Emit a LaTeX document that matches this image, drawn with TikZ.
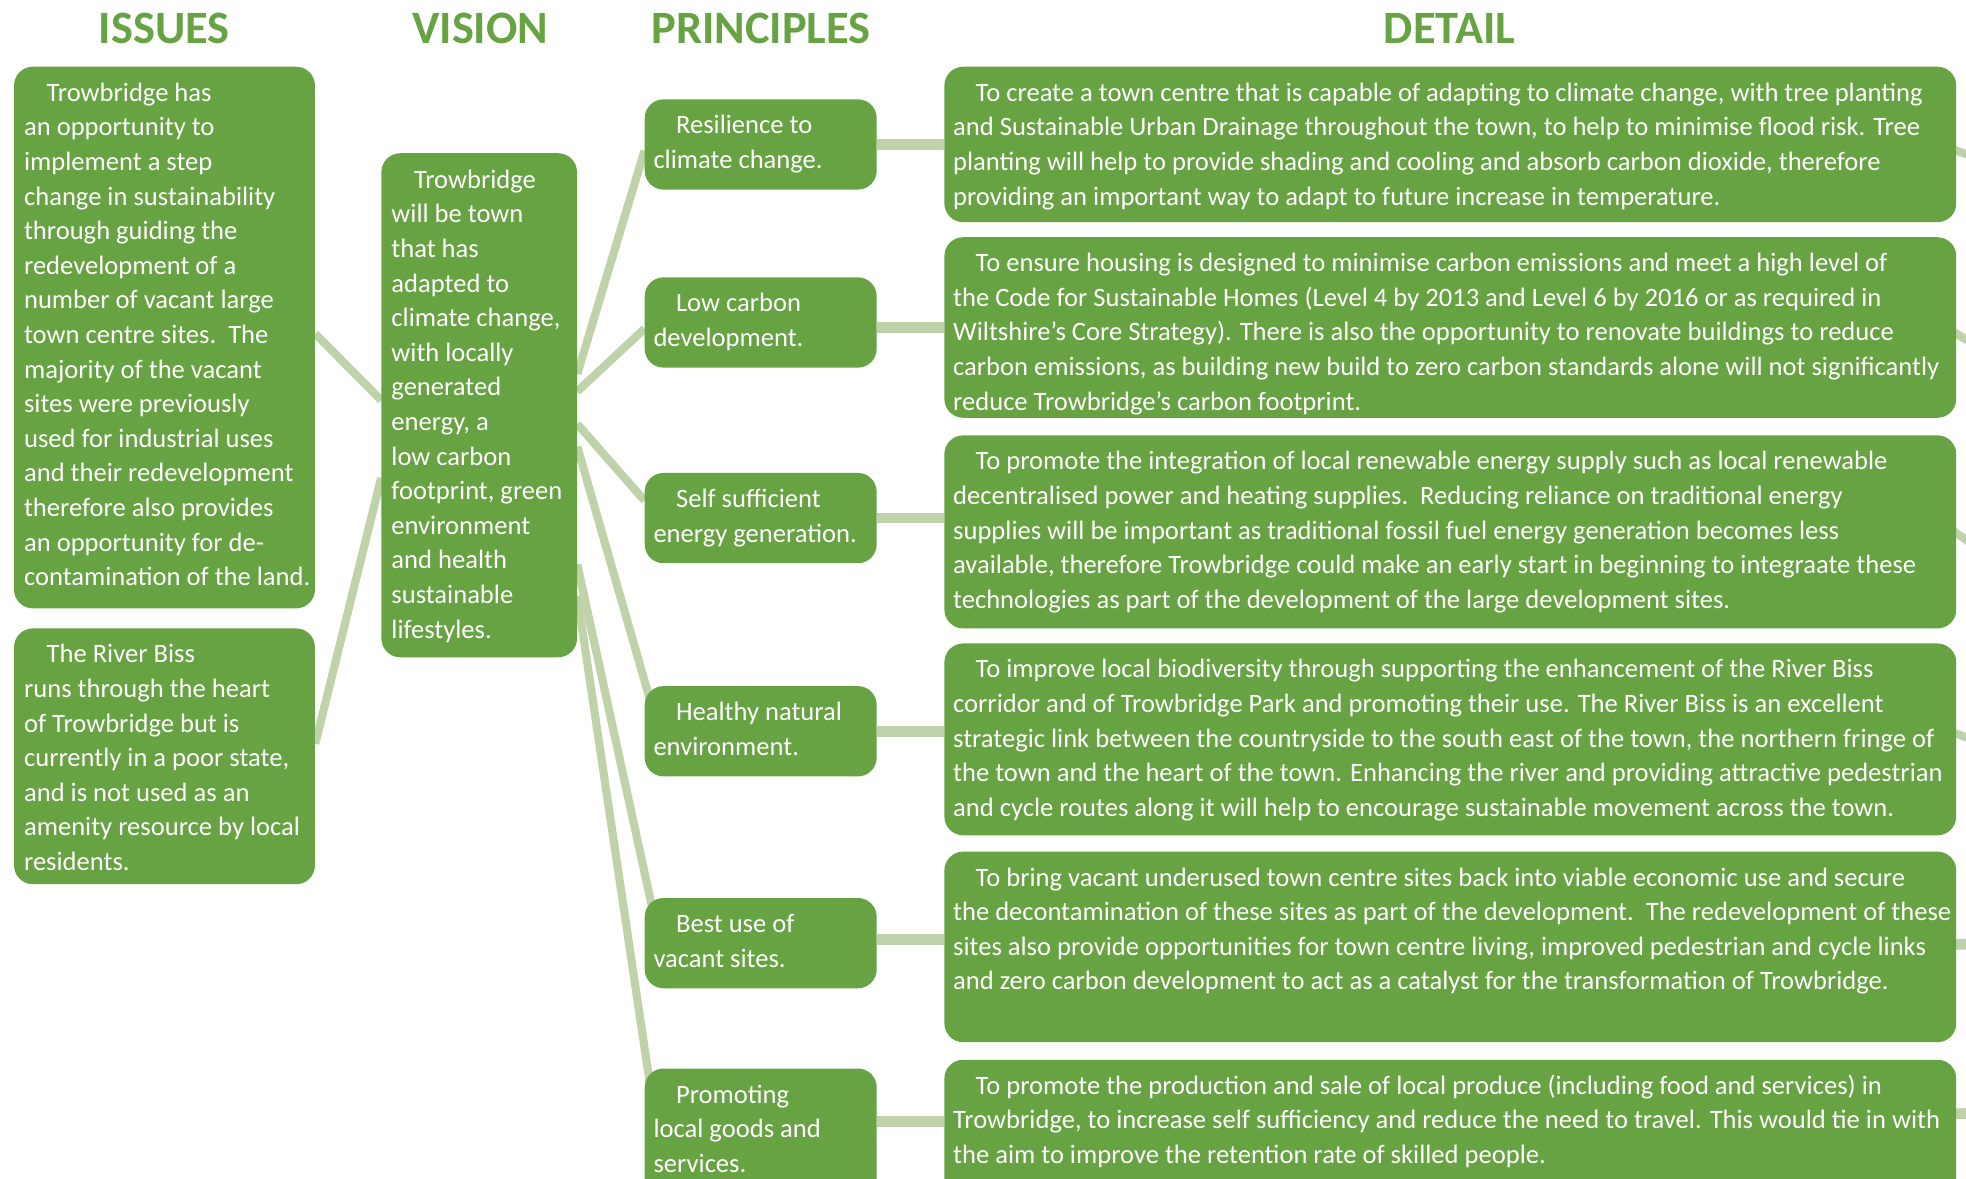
\documentclass[tikz,border=0pt]{standalone}
\usepackage{fontspec}
\setmainfont{Carlito}
\usetikzlibrary{backgrounds}
\definecolor{leaf}{HTML}{67A243}
\definecolor{sage}{HTML}{BFD2A9}
\newcommand\myindent{\hspace*{18pt}}
\newcommand\mystrut{\rule{0pt}{20pt}}

\begin{document}
\begin{tikzpicture}[x=1pt,y=-1pt,
  panel/.style={fill=leaf, draw=none, rounded corners=15pt, inner sep=0pt, anchor=north west},
  body/.style={text=white, font=\fontsize{21.2}{27.6}\selectfont, align=left, inner sep=0pt, anchor=north west},
  heading/.style={text=leaf, font=\bfseries\fontsize{37}{40}\selectfont, anchor=base, inner sep=0pt},
  link/.style={draw=sage, line width=6.5pt},
  tie/.style={draw=sage, line width=8.5pt},
]
\clip (0,0) rectangle (1568,940);

% column headings
\node[heading] (hissues) at (131,35) {ISSUES};
\node[heading] (hvision) at (383,35) {VISION};
\node[heading] (hprinc) at (607,35) {PRINCIPLES};
\node[heading] (hdetail) at (1156,35) {DETAIL};

% issues
\node[panel, minimum width=240pt, minimum height=432pt] (i1) at (11,53) {};
\node[body] (i1t) at ([xshift=8pt,yshift=-7.5pt]i1.north west) {\mystrut\myindent Trowbridge has\\
an opportunity to\\
implement a step\\
change in sustainability\\
through guiding the\\
redevelopment of a\\
number of vacant large\\
town centre sites.\ \ The\\
majority of the vacant\\
sites were previously\\
used for industrial uses\\
and their redevelopment\\
therefore also provides\\
an opportunity for de-\\
contamination of the land.};

\node[panel, minimum width=240pt, minimum height=204pt] (i2) at (11,501) {};
\node[body] (i2t) at ([xshift=8pt,yshift=-7.5pt]i2.north west) {\mystrut\myindent The River Biss\\
runs through the heart\\
of Trowbridge but is\\
currently in a poor state,\\
and is not used as an\\
amenity resource by local\\
residents.};

% vision
\node[panel, minimum width=156pt, minimum height=402pt] (vis) at (304,122) {};
\node[body] (vist) at ([xshift=8pt,yshift=-8pt]vis.north west) {\mystrut\myindent Trowbridge\\
will be town\\
that has\\
adapted to\\
climate change,\\
with locally\\
generated\\
energy, a\\
low carbon\\
footprint, green\\
environment\\
and health\\
sustainable\\
lifestyles.};

% principles
\node[panel, minimum width=185pt, minimum height=72pt] (p1) at (514,79) {};
\node[body] (p1t) at ([xshift=7pt,yshift=-7.5pt]p1.north west) {\mystrut\myindent Resilience to\\ climate change.};
\node[panel, minimum width=185pt, minimum height=72pt] (p2) at (514,221) {};
\node[body] (p2t) at ([xshift=7pt,yshift=-7.5pt]p2.north west) {\mystrut\myindent Low carbon\\ development.};
\node[panel, minimum width=185pt, minimum height=72pt] (p3) at (514,377) {};
\node[body] (p3t) at ([xshift=7pt,yshift=-7.5pt]p3.north west) {\mystrut\myindent Self sufficient\\ energy generation.};
\node[panel, minimum width=185pt, minimum height=72pt] (p4) at (514,547) {};
\node[body] (p4t) at ([xshift=7pt,yshift=-7.5pt]p4.north west) {\mystrut\myindent Healthy natural\\ environment.};
\node[panel, minimum width=185pt, minimum height=72pt] (p5) at (514,716) {};
\node[body] (p5t) at ([xshift=7pt,yshift=-7.5pt]p5.north west) {\mystrut\myindent Best use of\\ vacant sites.};
\node[panel, minimum width=185pt, minimum height=110pt] (p6) at (514,852) {};
\node[body] (p6t) at ([xshift=7pt,yshift=-7.5pt]p6.north west) {\mystrut\myindent Promoting\\ local goods and\\ services.};

% detail
\node[panel, minimum width=807pt, minimum height=124pt] (d1) at (753,53) {};
\node[body] (d1t) at ([xshift=7pt,yshift=-7.5pt]d1.north west) {\mystrut\myindent To create a town centre that is capable of adapting to climate change, with tree planting\\
and Sustainable Urban Drainage throughout the town, to help to minimise flood risk. Tree\\
planting will help to provide shading and cooling and absorb carbon dioxide, therefore\\
providing an important way to adapt to future increase in temperature.};

\node[panel, minimum width=807pt, minimum height=144pt] (d2) at (753,189) {};
\node[body] (d2t) at ([xshift=7pt,yshift=-7.5pt]d2.north west) {\mystrut\myindent To ensure housing is designed to minimise carbon emissions and meet a high level of\\
the Code for Sustainable Homes (Level 4 by 2013 and Level 6 by 2016 or as required in\\
Wiltshire’s Core Strategy). There is also the opportunity to renovate buildings to reduce\\
carbon emissions, as building new build to zero carbon standards alone will not significantly\\
reduce Trowbridge’s carbon footprint.};

\node[panel, minimum width=807pt, minimum height=154pt] (d3) at (753,347) {};
\node[body] (d3t) at ([xshift=7pt,yshift=-7.5pt]d3.north west) {\mystrut\myindent To promote the integration of local renewable energy supply such as local renewable\\
decentralised power and heating supplies.\ \ Reducing reliance on traditional energy\\
supplies will be important as traditional fossil fuel energy generation becomes less\\
available, therefore Trowbridge could make an early start in beginning to integraate these\\
technologies as part of the development of the large development sites.};

\node[panel, minimum width=807pt, minimum height=153pt] (d4) at (753,513) {};
\node[body] (d4t) at ([xshift=7pt,yshift=-7.5pt]d4.north west) {\mystrut\myindent To improve local biodiversity through supporting the enhancement of the River Biss\\
corridor and of Trowbridge Park and promoting their use. The River Biss is an excellent\\
strategic link between the countryside to the south east of the town, the northern fringe of\\
the town and the heart of the town. Enhancing the river and providing attractive pedestrian\\
and cycle routes along it will help to encourage sustainable movement across the town.};

\node[panel, minimum width=807pt, minimum height=152pt] (d5) at (753,679) {};
\node[body] (d5t) at ([xshift=7pt,yshift=-7.5pt]d5.north west) {\mystrut\myindent To bring vacant underused town centre sites back into viable economic use and secure\\
the decontamination of these sites as part of the development.\ \ The redevelopment of these\\
sites also provide opportunities for town centre living, improved pedestrian and cycle links\\
and zero carbon development to act as a catalyst for the transformation of Trowbridge.};

\node[panel, minimum width=807pt, minimum height=120pt] (d6) at (753,845) {};
\node[body] (d6t) at ([xshift=7pt,yshift=-7.5pt]d6.north west) {\mystrut\myindent To promote the production and sale of local produce (including food and services) in\\
Trowbridge, to increase self sufficiency and reduce the need to travel. This would tie in with\\
the aim to improve the retention rate of skilled people.};

% ends of the links leaving on the right
\coordinate (q1) at (1590,130.5);
\coordinate (q2) at (1590,284);
\coordinate (q3) at (1590,446);
\coordinate (q4) at (1590,595.5);
\coordinate (q5) at (1590,753);
\coordinate (q6) at (1590,888);

\begin{pgfonlayer}{background}
  % issues to vision
  \draw[link] ([yshift=3pt]i1.east) -- ([yshift=4pt]vis.west);
  \draw[link] ([yshift=10pt]i2.east) -- ([yshift=-58pt]vis.west);
  % vision to principles
  \draw[link] ([yshift=25pt]vis.east) -- ([yshift=-5pt]p1.west);
  \draw[link] ([yshift=11pt]vis.east) -- ([yshift=-5pt]p2.west);
  \draw[link] ([yshift=-15pt]vis.east) -- ([yshift=14pt]p3.west);
  \draw[link] ([yshift=-33pt]vis.east) -- ([xshift=5pt,yshift=23pt]p4.west);
  \draw[link] ([yshift=-127pt]vis.east) -- ([xshift=6pt,yshift=29pt]p5.west);
  \draw[link] ([yshift=-152pt]vis.east) -- ([xshift=4pt,yshift=45pt]p6.west);
  % principles to detail
  \draw[tie] (p1.east) -- (p1.east -| d1.west);
  \draw[tie] ([yshift=-4pt]p2.east) -- ([yshift=-4pt]p2.east -| d2.west);
  \draw[tie] (p3.east) -- (p3.east -| d3.west);
  \draw[tie] (p4.east) -- (p4.east -| d4.west);
  \draw[tie] ([yshift=3pt]p5.east) -- ([yshift=3pt]p5.east -| d5.west);
  \draw[tie] ([yshift=13pt]p6.east) -- ([yshift=13pt]p6.east -| d6.west);
  % detail onwards
  \draw[link] ([xshift=-10pt,yshift=-1.5pt]d1.east) -- (q1);
  \draw[link] ([xshift=-10pt,yshift=1pt]d2.east) -- (q2);
  \draw[link] ([xshift=-10pt,yshift=6pt]d3.east) -- (q3);
  \draw[link] ([xshift=-10pt,yshift=8pt]d4.east) -- (q4);
  \draw[tie] ([xshift=-10pt,yshift=2pt]d5.east) -- (q5);
  \draw[tie] ([xshift=-10pt,yshift=17pt]d6.east) -- (q6);
\end{pgfonlayer}
\end{tikzpicture}
\end{document}
